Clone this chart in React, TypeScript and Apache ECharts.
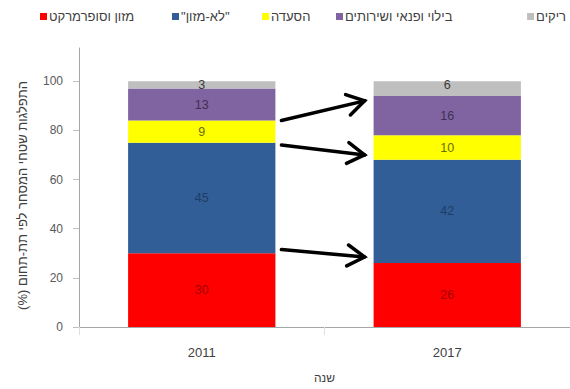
import React, { useEffect, useRef } from "react";
import * as echarts from "echarts";

const years = ["2011", "2017"];
const seriesNames = ["מזון וסופרמרקט", "\"לא-מזון\"", "הסעדה", "בילוי ופנאי ושירותים", "ריקים"];
const food = [30, 26];
const nonFood = [45, 42];
const dining = [9, 10];
const leisure = [13, 16];
const empty = [3, 6];
const yTicks = [0, 20, 40, 60, 80, 100];
// arrows: value at 2011 side -> value at 2017 side
const arrowFrom = [84, 74, 31.5];
const arrowTo = [92, 70, 28.5];

const colors = ["#ff0000", "#315e96", "#ffff00", "#8064a2", "#bfbfbf"];
const labelColors = ["#a00000", "#1f3d66", "#6b6b00", "#3f3151", "#3a3a3a"];
const legendLefts: (number | null)[] = [40, 172, 262, 336, null];
const font = "Liberation Sans, Arial, sans-serif";

export default function App() {
  const ref = useRef<HTMLDivElement>(null);
  useEffect(() => {
    if (!ref.current) return;
    const chart = echarts.init(ref.current, null, { renderer: "svg" });
    const values = [food, nonFood, dining, leisure, empty];
    const option: any = {
      animation: false,
      textStyle: { fontFamily: font },
      legend: seriesNames.map((n, i) => ({
        ...(legendLefts[i] === null ? { right: 4 } : { left: legendLefts[i] }),
        top: 10,
        padding: 0,
        itemWidth: 7,
        itemHeight: 7,
        icon: "rect",
        textStyle: { fontSize: 13, color: "#404040", fontFamily: font, padding: [0, 0, 0, -3] },
        data: [n],
      })),
      grid: { left: 79, right: -9, top: 48, bottom: 54 },
      xAxis: {
        type: "category",
        data: years,
        name: "שנה",
        nameLocation: "middle",
        nameGap: 45,
        nameTextStyle: { fontSize: 12, color: "#404040" },
        axisLine: { lineStyle: { color: "#a6a6a6" } },
        axisTick: { show: true, length: 8, lineStyle: { color: "#e0e0e0" } },
        axisLabel: { fontSize: 13, color: "#404040", margin: 19 },
      },
      yAxis: {
        type: "value",
        min: 0,
        max: 113.5,
        name: "(%) התפלגות שטחי המסחר לפי תת-תחום",
        nameLocation: "middle",
        nameGap: 50,
        nameRotate: 90,
        nameTextStyle: { fontSize: 13, color: "#404040", padding: [0, 16, 0, 0] },
        splitLine: { show: false },
        axisLine: { show: true, lineStyle: { color: "#a6a6a6" } },
        axisTick: { show: true, length: 6, customValues: yTicks, lineStyle: { color: "#bfbfbf" } },
        axisLabel: { customValues: yTicks, fontSize: 12, color: "#595959", margin: 16 },
      },
      series: values.map((v, i) => ({
        name: seriesNames[i],
        type: "bar",
        stack: "total",
        barWidth: "60%",
        data: v,
        itemStyle: { color: colors[i] },
        label: {
          show: true,
          position: i === 4 ? "insideTop" : "inside",
          distance: i === 4 ? -3 : 5,
          color: labelColors[i],
          fontSize: 12.5,
          fontFamily: font,
        },
      })),
    };
    chart.setOption(option);

    const graphics: any[] = [];
    const c0 = chart.convertToPixel({ xAxisIndex: 0 }, years[0]) as number;
    const c1 = chart.convertToPixel({ xAxisIndex: 0 }, years[1]) as number;
    const band = c1 - c0;
    const half = band * 0.3;
    for (let i = 0; i < arrowFrom.length; i++) {
      const x1 = c0 + half + 6;
      const x2 = c1 - half - 9;
      const y1 = chart.convertToPixel({ yAxisIndex: 0 }, arrowFrom[i]) as number;
      const y2 = chart.convertToPixel({ yAxisIndex: 0 }, arrowTo[i]) as number;
      const ang = Math.atan2(y2 - y1, x2 - x1);
      const L = 20;
      const spread = 0.55;
      const a1x = x2 - L * Math.cos(ang - spread);
      const a1y = y2 - L * Math.sin(ang - spread);
      const a2x = x2 - L * Math.cos(ang + spread);
      const a2y = y2 - L * Math.sin(ang + spread);
      graphics.push({
        type: "polyline",
        shape: { points: [[x1, y1], [x2, y2]] },
        style: { stroke: "#000", lineWidth: 3.5, lineCap: "round" },
        z: 100,
      });
      graphics.push({
        type: "polyline",
        shape: { points: [[a1x, a1y], [x2, y2], [a2x, a2y]] },
        style: { stroke: "#000", lineWidth: 3.5, lineCap: "round", lineJoin: "miter", fill: null },
        z: 100,
      });
    }
    chart.setOption({ graphic: graphics });
    return () => chart.dispose();
  }, []);
  return <div ref={ref} style={{ width: 570, height: 389, position: "absolute", left: 0, top: 0, background: "#fff" }} />;
}
